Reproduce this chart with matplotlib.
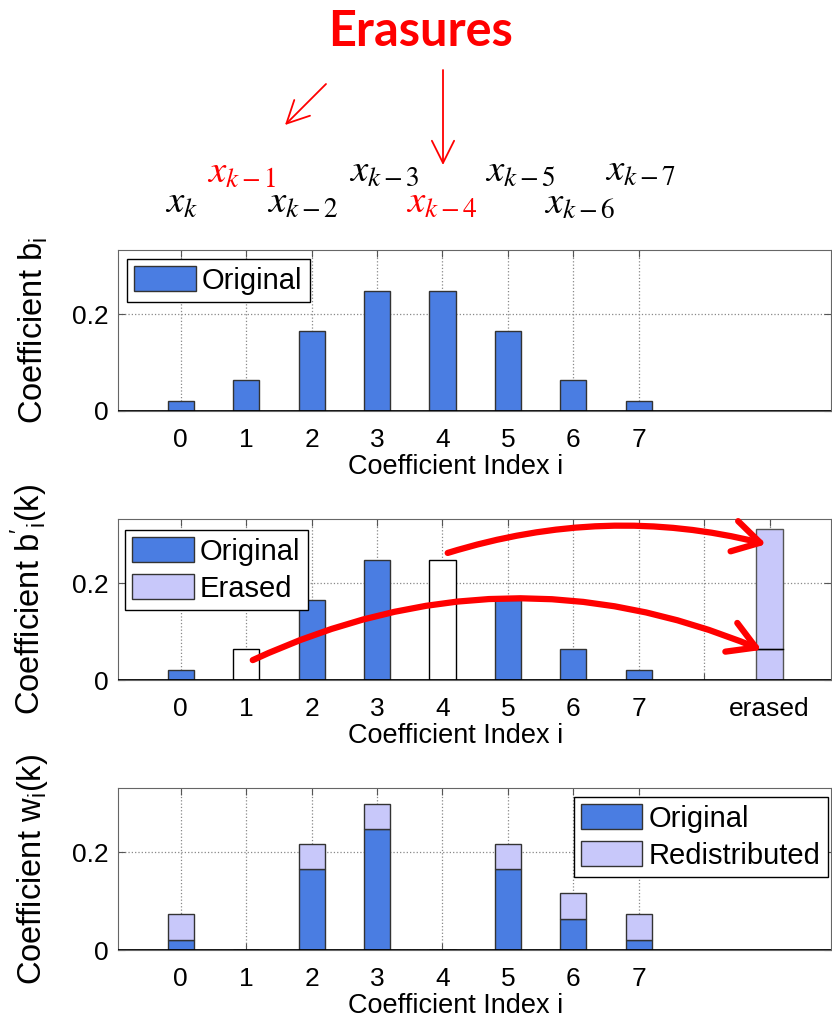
import matplotlib
matplotlib.use('Agg')
import matplotlib.pyplot as plt
from matplotlib.patches import Patch
import numpy as np

plt.rcParams['font.family'] = ['Liberation Sans', 'DejaVu Sans']

# data
idx = np.arange(8)
b_orig = [0.021, 0.064, 0.165, 0.247, 0.247, 0.165, 0.064, 0.021]
erased_idx = [1, 4]
erased_pos = 9
w_orig = [0.021, 0.0, 0.165, 0.247, 0.0, 0.165, 0.064, 0.021]
w_redist = [0.052, 0.0, 0.053, 0.052, 0.0, 0.053, 0.053, 0.052]
mid_ticks = list(range(10))
mid_labels = ['0', '1', '2', '3', '4', '5', '6', '7', '', 'erased']

tap_labels = ['$x_k$', '$x_{k-1}$', '$x_{k-2}$', '$x_{k-3}$',
              '$x_{k-4}$', '$x_{k-5}$', '$x_{k-6}$', '$x_{k-7}$']
tap_colors = ['black', 'red', 'black', 'black', 'red', 'black', 'black', 'black']

blue = '#4a7de2'
lav = '#c8c8fa'
W, H = 832, 1024

fig = plt.figure(figsize=(W / 100, H / 100), dpi=100)


def make_axes(top, bottom):
    return fig.add_axes([118 / W, 1 - bottom / H, (831 - 118) / W, (bottom - top) / H])


def style(ax, ticks, labels, ylabel):
    ax.set_xlim(-0.96, 9.94)
    ax.set_ylim(0, 0.332)
    ax.set_xticks(ticks)
    ax.set_xticklabels(labels)
    ax.set_yticks([0, 0.2])
    ax.set_yticklabels(['0', '0.2'])
    ax.tick_params(direction='in', length=5, top=True, right=True,
                   labelsize=19, color='#555555')
    ax.tick_params(axis='x', pad=12)
    ax.tick_params(axis='y', pad=7)
    ax.grid(True, linestyle=':', color='#888888', lw=0.9)
    ax.set_axisbelow(True)
    for s in ax.spines.values():
        s.set_color('#666666')
    ax.axhline(0, color='black', lw=2, zorder=5)
    ax.set_xlabel('Coefficient Index i', fontsize=19.5)
    ax.xaxis.set_label_coords(0.473, -0.265)
    ax.set_ylabel(ylabel, fontsize=23.5)
    ax.yaxis.set_label_coords(-0.095, 0.5)


def legend(ax, handles, loc, anchor):
    leg = ax.legend(handles=handles, loc=loc, bbox_to_anchor=anchor, borderaxespad=0,
                    fontsize=21, handlelength=2.1, handleheight=0.92, handletextpad=0.22,
                    fancybox=False, edgecolor='black', framealpha=1, borderpad=0.25,
                    labelspacing=0.3)
    leg.get_frame().set_linewidth(1)
    return leg


# top panel
ax1 = make_axes(250, 411)
ax1.bar(idx, b_orig, width=0.4, color=blue, edgecolor='#333333', lw=1, zorder=3)
style(ax1, list(range(8)), [str(i) for i in range(8)], r'Coefficient $\mathregular{b_i}$')
legend(ax1, [Patch(fc=blue, ec='#333333', label='Original')], 'upper left', (0.0126, 0.944))

# middle panel
ax2 = make_axes(519, 680)
fc = ['white' if i in erased_idx else blue for i in idx]
ec = ['black' if i in erased_idx else '#333333' for i in idx]
ax2.bar(idx, b_orig, width=0.4, color=fc, edgecolor=ec, lw=1, zorder=3)
ax2.bar(erased_pos, b_orig[erased_idx[0]], width=0.4, color=lav, edgecolor='#555555', lw=1, zorder=3)
ax2.bar(erased_pos, b_orig[erased_idx[1]], bottom=b_orig[erased_idx[0]], width=0.4,
        color=lav, edgecolor='#555555', lw=1, zorder=3)
ax2.plot([erased_pos - 0.2, erased_pos + 0.2], [b_orig[erased_idx[0]]] * 2, color='black', lw=1, zorder=4)
style(ax2, mid_ticks, mid_labels, r"Coefficient $\mathregular{b'_i(k)}$")
legend(ax2, [Patch(fc=blue, ec='#333333', label='Original'),
             Patch(fc=lav, ec='#333333', label='Erased')], 'upper left', (0.0098, 0.932))
arrow_style = '->,head_length=0.6,head_width=0.35'
ax2.annotate('', xy=(8.95, 0.28), xytext=(4.08, 0.262),
             arrowprops=dict(arrowstyle=arrow_style, color='red', lw=4.5,
                             connectionstyle='arc3,rad=-0.14', shrinkA=0, shrinkB=0,
                             mutation_scale=32), zorder=6)
ax2.annotate('', xy=(8.88, 0.062), xytext=(1.1, 0.041),
             arrowprops=dict(arrowstyle=arrow_style, color='red', lw=4.5,
                             connectionstyle='arc3,rad=-0.22', shrinkA=0, shrinkB=0,
                             mutation_scale=32), zorder=6)

# bottom panel
ax3 = make_axes(788, 950)
ax3.bar(idx, w_orig, width=0.4, color=blue, edgecolor='#333333', lw=1, zorder=3)
ax3.bar(idx, w_redist, bottom=w_orig, width=0.4, color=lav, edgecolor='#333333', lw=1, zorder=3)
style(ax3, list(range(8)), [str(i) for i in range(8)], r'Coefficient $\mathregular{w_i(k)}$')
legend(ax3, [Patch(fc=blue, ec='#333333', label='Original'),
             Patch(fc=lav, ec='#333333', label='Redistributed')], 'upper right', (0.9958, 0.944))

# header annotation
fig.text(420 / W, 1 - 31 / H, 'Erasures', color='red', fontsize=35, fontweight='bold',
         family='Lato', ha='center', va='center')
tap_x = [181, 242, 303, 384, 442, 520, 580, 641]
tap_y = [213, 183, 213, 181, 213, 181, 213, 181]
for lab, c, x, y in zip(tap_labels, tap_colors, tap_x, tap_y):
    fig.text(x / W, 1 - y / H, lab, color=c, fontsize=28, ha='center', va='baseline',
             math_fontfamily='stix')
ax1.annotate('', xy=(285, H - 125), xytext=(326, H - 84), xycoords='figure pixels',
             textcoords='figure pixels',
             arrowprops=dict(arrowstyle='->,head_length=0.8,head_width=0.4', color='red', lw=1.3,
                             shrinkA=0, shrinkB=0, mutation_scale=20), annotation_clip=False)
ax1.annotate('', xy=(443, H - 165), xytext=(443, H - 70), xycoords='figure pixels',
             textcoords='figure pixels',
             arrowprops=dict(arrowstyle='->,head_length=0.8,head_width=0.4', color='red', lw=1.3,
                             shrinkA=0, shrinkB=0, mutation_scale=20), annotation_clip=False)

fig.savefig('out.png', dpi=100)
